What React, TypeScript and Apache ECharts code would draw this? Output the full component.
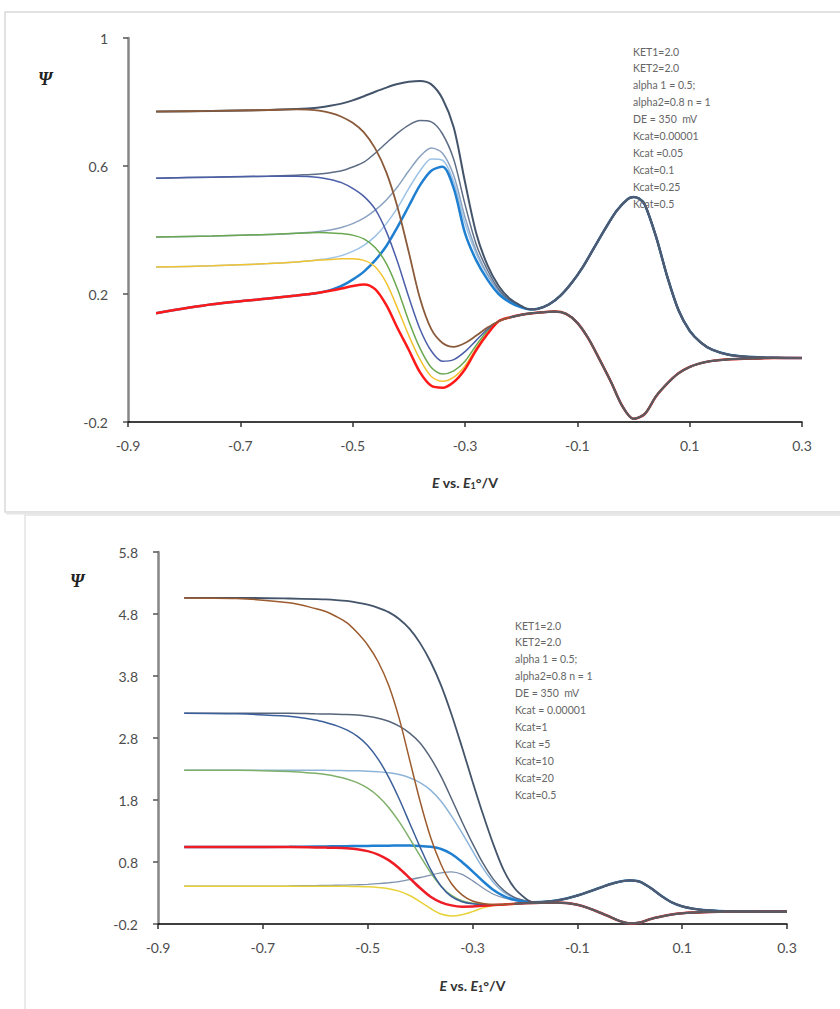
import React, { useEffect, useRef } from 'react';
import * as echarts from 'echarts';

// ---------- shared x grids ----------
const upHeadX = [-0.85, -0.75, -0.65, -0.6, -0.58, -0.56, -0.54, -0.52, -0.5, -0.48, -0.46, -0.44, -0.42, -0.4, -0.38, -0.36, -0.34, -0.32, -0.3, -0.28, -0.26, -0.24, -0.22, -0.2];
const upTailX = [-0.185, -0.17, -0.15, -0.13, -0.11, -0.09, -0.07, -0.05, -0.03, -0.01, 0, 0.01, 0.02, 0.04, 0.06, 0.08, 0.1, 0.12, 0.14, 0.17, 0.2, 0.25, 0.3];
const upTailY = [0.152, 0.154, 0.168, 0.195, 0.235, 0.285, 0.345, 0.405, 0.46, 0.497, 0.503, 0.498, 0.48, 0.38, 0.255, 0.15, 0.085, 0.048, 0.026, 0.01, 0.004, 0.001, 0];
const lowHeadX = [-0.85, -0.75, -0.65, -0.6, -0.58, -0.56, -0.54, -0.52, -0.5, -0.48, -0.46, -0.44, -0.42, -0.4, -0.38, -0.36, -0.34, -0.32, -0.3, -0.28, -0.26];
const lowTailX = [-0.24, -0.22, -0.2, -0.18, -0.16, -0.14, -0.12, -0.1, -0.08, -0.06, -0.04, -0.02, 0, 0.02, 0.04, 0.06, 0.08, 0.1, 0.12, 0.14, 0.17, 0.2, 0.25, 0.3];
const lowTailY = [0.115, 0.127, 0.135, 0.14, 0.143, 0.145, 0.138, 0.11, 0.06, -0.006, -0.075, -0.15, -0.19, -0.175, -0.12, -0.08, -0.048, -0.028, -0.016, -0.009, -0.004, -0.002, 0, 0];

// ---------- top panel (Kcat = 0.00001 ... 0.5) ----------
const topUpA = [0.77, 0.772, 0.775, 0.778, 0.78, 0.783, 0.788, 0.795, 0.805, 0.818, 0.832, 0.845, 0.856, 0.863, 0.866, 0.855, 0.81, 0.72, 0.55, 0.39, 0.29, 0.225, 0.185, 0.163];
const topUpB = [0.562, 0.565, 0.568, 0.571, 0.573, 0.575, 0.579, 0.585, 0.597, 0.612, 0.64, 0.672, 0.703, 0.728, 0.742, 0.738, 0.7, 0.62, 0.48, 0.355, 0.275, 0.215, 0.18, 0.161];
const topUpC = [0.378, 0.381, 0.386, 0.39, 0.392, 0.395, 0.4, 0.408, 0.42, 0.437, 0.462, 0.494, 0.535, 0.585, 0.63, 0.656, 0.64, 0.57, 0.44, 0.335, 0.262, 0.21, 0.178, 0.16];
const topUpD = [0.284, 0.288, 0.295, 0.3, 0.303, 0.307, 0.312, 0.32, 0.333, 0.352, 0.38, 0.42, 0.47, 0.53, 0.585, 0.622, 0.618, 0.55, 0.42, 0.325, 0.258, 0.207, 0.176, 0.16];
const topUpE = [0.14, 0.168, 0.186, 0.195, 0.199, 0.204, 0.212, 0.225, 0.245, 0.27, 0.305, 0.35, 0.41, 0.475, 0.54, 0.585, 0.598, 0.53, 0.39, 0.305, 0.245, 0.2, 0.174, 0.158];
const topLowA = [0.77, 0.772, 0.775, 0.777, 0.776, 0.773, 0.766, 0.754, 0.735, 0.705, 0.655, 0.58, 0.47, 0.33, 0.185, 0.09, 0.047, 0.035, 0.047, 0.07, 0.095];
const topLowB = [0.562, 0.565, 0.568, 0.568, 0.567, 0.564, 0.558, 0.548, 0.53, 0.505, 0.465, 0.395, 0.3, 0.19, 0.09, 0.022, -0.01, -0.005, 0.02, 0.055, 0.09];
const topLowC = [0.378, 0.381, 0.386, 0.39, 0.391, 0.392, 0.391, 0.389, 0.384, 0.372, 0.345, 0.295, 0.215, 0.115, 0.03, -0.03, -0.05, -0.04, -0.01, 0.04, 0.085];
const topLowD = [0.284, 0.288, 0.295, 0.3, 0.303, 0.306, 0.308, 0.31, 0.31, 0.305, 0.285, 0.235, 0.155, 0.07, -0.005, -0.058, -0.073, -0.06, -0.025, 0.03, 0.08];
const topLowE = [0.14, 0.168, 0.186, 0.195, 0.199, 0.204, 0.21, 0.217, 0.225, 0.23, 0.215, 0.165, 0.093, 0.025, -0.045, -0.087, -0.093, -0.075, -0.035, 0.025, 0.075];

// ---------- bottom panel (Kcat = 0.00001 ... 20) ----------
const botUp1 = [5.06, 5.06, 5.05, 5.04, 5.035, 5.025, 5.01, 4.985, 4.95, 4.9, 4.83, 4.72, 4.56, 4.33, 4.03, 3.65, 3.18, 2.65, 2.1, 1.57, 1.08, 0.66, 0.38, 0.22];
const botUp2 = [3.2, 3.2, 3.2, 3.19, 3.188, 3.185, 3.18, 3.17, 3.15, 3.12, 3.07, 2.99, 2.88, 2.72, 2.48, 2.18, 1.82, 1.45, 1.1, 0.78, 0.52, 0.34, 0.23, 0.175];
const botUp3 = [2.28, 2.28, 2.28, 2.28, 2.278, 2.276, 2.273, 2.27, 2.265, 2.255, 2.24, 2.21, 2.16, 2.08, 1.96, 1.78, 1.54, 1.27, 0.98, 0.7, 0.47, 0.31, 0.22, 0.17];
const botUp4 = [1.04, 1.04, 1.045, 1.05, 1.052, 1.054, 1.056, 1.058, 1.06, 1.062, 1.064, 1.065, 1.065, 1.06, 1.045, 1.01, 0.93, 0.8, 0.65, 0.49, 0.35, 0.25, 0.19, 0.16];
const botUp5 = [0.41, 0.41, 0.415, 0.42, 0.422, 0.425, 0.428, 0.433, 0.44, 0.45, 0.465, 0.485, 0.515, 0.55, 0.59, 0.625, 0.64, 0.6, 0.5, 0.38, 0.28, 0.22, 0.18, 0.16];
const botLow1 = [5.06, 5.05, 4.98, 4.89, 4.84, 4.76, 4.66, 4.5, 4.3, 4.03, 3.65, 3.12, 2.45, 1.78, 1.2, 0.76, 0.45, 0.27, 0.17, 0.13, 0.115];
const botLow2 = [3.2, 3.19, 3.15, 3.09, 3.05, 3.0, 2.93, 2.83, 2.68, 2.46, 2.17, 1.82, 1.43, 1.04, 0.68, 0.41, 0.24, 0.16, 0.125, 0.112, 0.11];
const botLow3 = [2.28, 2.28, 2.26, 2.23, 2.21, 2.18, 2.14, 2.08, 1.99, 1.86, 1.68, 1.45, 1.18, 0.9, 0.63, 0.41, 0.26, 0.175, 0.135, 0.117, 0.11];
const botLow4 = [1.04, 1.04, 1.04, 1.035, 1.032, 1.028, 1.02, 1.005, 0.975, 0.92, 0.83, 0.7, 0.54, 0.38, 0.24, 0.15, 0.1, 0.08, 0.082, 0.095, 0.105];
const botLow5 = [0.41, 0.41, 0.41, 0.41, 0.41, 0.41, 0.408, 0.405, 0.4, 0.39, 0.37, 0.33, 0.26, 0.16, 0.05, -0.04, -0.07, -0.05, 0.0, 0.06, 0.1];

// ---------- ticks & texts ----------
const xTicks = { min: -0.9, max: 0.3, interval: 0.2 };
const topYTicks = { min: -0.2, max: 1, interval: 0.4 };
const botYTicks = { min: -0.2, max: 5.8, interval: 1 };
const topNotes = ['KET1=2.0', 'KET2=2.0', 'alpha 1 = 0.5;', 'alpha2=0.8 n = 1', 'DE = 350  mV', 'Kcat=0.00001', 'Kcat =0.05', 'Kcat=0.1', 'Kcat=0.25', 'Kcat=0.5'];
const botNotes = ['KET1=2.0', 'KET2=2.0', 'alpha 1 = 0.5;', 'alpha2=0.8 n = 1', 'DE = 350  mV', 'Kcat = 0.00001', 'Kcat=1', 'Kcat =5', 'Kcat=10', 'Kcat=20', 'Kcat=0.5'];

const pairs = (xs: number[], ys: number[]) => xs.map((x, i) => [x, ys[i]]);
const upBranch = (ys: number[]) => [...pairs(upHeadX, ys), ...pairs(upTailX, upTailY)];
const lowBranch = (ys: number[]) => [...pairs(lowHeadX, ys), ...pairs(lowTailX, lowTailY)];

export default function App() {
  const ref = useRef<HTMLDivElement>(null);
  useEffect(() => {
    if (!ref.current) return;
    const chart = echarts.init(ref.current, null, { renderer: 'svg' });
    const fmt1 = (v: number) => (Math.round(v * 10) / 10).toString();
    const xAxisBase = (gi: number, nameGap: number) => ({
      type: 'value', gridIndex: gi, ...xTicks,
      axisLine: { onZero: false, lineStyle: { color: '#000', width: 1.5 } },
      axisTick: { show: true, length: 5, lineStyle: { color: '#333', width: 1.5 } },
      axisLabel: { margin: 16, color: '#4d4d4d', fontSize: 14, fontFamily: 'Lato', formatter: fmt1 },
      splitLine: { show: false },
      name: '{i|E}{b| vs. }{i|E}{s|1}{b|°/V}',
      nameLocation: 'middle', nameGap,
      nameTextStyle: {
        rich: {
          i: { fontFamily: 'Lato', fontSize: 14, fontWeight: 'bold', fontStyle: 'italic', color: '#333' },
          b: { fontFamily: 'Lato', fontSize: 14, fontWeight: 'bold', color: '#333' },
          s: { fontFamily: 'Lato', fontSize: 9, fontWeight: 'bold', color: '#333', padding: [7, 0, 0, 0] },
        },
      },
    });
    const yAxisBase = (gi: number, ticks: any) => ({
      type: 'value', gridIndex: gi, ...ticks,
      axisLine: { show: true, onZero: false, lineStyle: { color: '#868686', width: 2.5 } },
      axisTick: { show: true, length: 5, lineStyle: { color: '#555', width: 1.5 } },
      axisLabel: { margin: 20, color: '#4d4d4d', fontSize: 14, fontFamily: 'Lato', formatter: fmt1 },
      splitLine: { show: false },
    });
    const mk = (data: number[][], color: string, width: number, gi: number) => ({
      type: 'line', data, xAxisIndex: gi, yAxisIndex: gi, showSymbol: false, smooth: 0.3,
      lineStyle: { color, width }, silent: true, emphasis: { disabled: true },
    });
    const upTailData = pairs(upTailX, upTailY);
    const lowTailData = pairs(lowTailX, lowTailY).slice(1);
    const series = [
      mk(upBranch(topUpD), '#9dc3e6', 1.5, 0),
      mk(upBranch(topUpC), '#8aa2c0', 1.5, 0),
      mk(upBranch(topUpB), '#5d6d85', 1.5, 0),
      mk(upBranch(topUpE), '#1f7fd0', 2.5, 0),
      mk(upBranch(topUpA), '#44546a', 2, 0),
      mk(lowBranch(topLowD), '#f2c330', 1.5, 0),
      mk(lowBranch(topLowC), '#6aa84f', 1.5, 0),
      mk(lowBranch(topLowB), '#4b5ea8', 1.5, 0),
      mk(lowBranch(topLowE), '#ff1a1a', 2.5, 0),
      mk(lowBranch(topLowA), '#8a5a3a', 1.8, 0),
      mk(upTailData, '#4f5b70', 2.2, 0),
      mk(lowTailData, '#5a5b62', 2.2, 0),
      mk(upBranch(botUp5), '#7f93b0', 1.3, 1),
      mk(upBranch(botUp3), '#8db4d8', 1.5, 1),
      mk(upBranch(botUp2), '#56657a', 1.5, 1),
      mk(upBranch(botUp4), '#1f7fd0', 2.5, 1),
      mk(upBranch(botUp1), '#44546a', 1.8, 1),
      mk(lowBranch(botLow5), '#e8d23a', 1.5, 1),
      mk(lowBranch(botLow3), '#7fb06a', 1.5, 1),
      mk(lowBranch(botLow2), '#3b5f9a', 1.5, 1),
      mk(lowBranch(botLow4), '#ee1c25', 2.5, 1),
      mk(lowBranch(botLow1), '#9c5b2e', 1.5, 1),
      mk(upTailData, '#4f5b70', 2.2, 1),
      mk(lowTailData, '#5a5b62', 2.2, 1),
    ];
    const noteText = (lines: string[], x: number, y0: number) =>
      lines.map((t, i) => ({
        type: 'text', left: x, top: y0 + i * 16.9 - 7,
        style: { text: t, fill: '#666', fontSize: 10.5, fontFamily: 'Lato' }, silent: true, z: 10,
      }));
    const psi = (x: number, y: number) => ({
      type: 'text', left: x, top: y,
      style: { text: 'Ψ', fill: '#222', fontSize: 18, fontWeight: 'bold', fontStyle: 'italic', fontFamily: 'Liberation Serif' },
      silent: true,
    });
    chart.setOption({
      animation: false,
      backgroundColor: '#fff',
      graphic: [
        { type: 'rect', shape: { x: 5, y: 12, width: 840, height: 500 }, style: { fill: '#fff', stroke: '#d9d9d9', lineWidth: 1.5 }, z: -10, silent: true },
        { type: 'line', shape: { x1: 6, y1: 513.5, x2: 840, y2: 513.5 }, style: { stroke: '#e6e6e6', lineWidth: 2 }, z: -9, silent: true },
        { type: 'rect', shape: { x: 25, y: 515, width: 830, height: 510 }, style: { fill: '#fff', stroke: '#e3e3e3', lineWidth: 1.5 }, z: -10, silent: true },
        psi(38, 70), psi(70, 572),
        ...noteText(topNotes, 633, 53),
        ...noteText(botNotes, 515, 627),
      ],
      grid: [
        { left: 128, top: 38, width: 674, height: 384 },
        { left: 158, top: 552, width: 629, height: 372 },
      ],
      xAxis: [xAxisBase(0, 52), xAxisBase(1, 53)],
      yAxis: [yAxisBase(0, topYTicks), yAxisBase(1, botYTicks)],
      series,
    });
    return () => chart.dispose();
  }, []);
  return <div ref={ref} style={{ position: 'fixed', left: 0, top: 0, width: 840, height: 1009 }} />;
}
